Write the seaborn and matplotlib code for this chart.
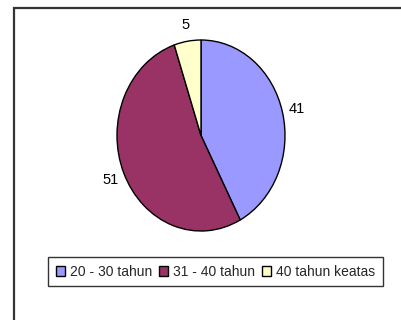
import matplotlib
matplotlib.use("Agg")
import matplotlib.pyplot as plt
import seaborn as sns
from matplotlib.patches import Patch, Rectangle

sns.set_theme(style="white")
plt.rcParams['font.family'] = ['Liberation Sans', 'DejaVu Sans']

categories = ["20 - 30 tahun", "31 - 40 tahun", "40 tahun keatas"]
values = [41, 51, 5]
colors = ["#9999FF", "#993366", "#FFFFCC"]

W, H = 401, 320
fig = plt.figure(figsize=(W / 100, H / 100), dpi=100)
fig.patch.set_facecolor("white")

# outer frame (extends beyond the right/bottom edges)
fig.patches.append(Rectangle((14 / W, -0.2), 1.2, 1 - 8 / H + 0.2,
                             transform=fig.transFigure, fill=False,
                             edgecolor="#333333", linewidth=1.6))

ax = fig.add_axes([117 / W, 1 - 231 / H, 168 / W, 191 / H])
wedges, texts = ax.pie(values, labels=[str(v) for v in values], colors=colors,
                       startangle=90, counterclock=False, labeldistance=1.17,
                       wedgeprops=dict(edgecolor="black", linewidth=1.0),
                       textprops=dict(fontsize=10.5, color="black"))
for t in texts:
    t.set_ha("center")
    t.set_va("center")
ax.set_aspect("auto")
ax.set_xlim(-1.0, 1.0)
ax.set_ylim(-1.0, 1.0)
ax.axis("off")

handles = [Patch(facecolor=c, edgecolor="black", linewidth=1.0) for c in colors]
leg = fig.legend(handles, categories, loc="center",
                 bbox_to_anchor=(215.5 / W, 1 - 271.5 / H), ncol=3,
                 fontsize=10, frameon=True, fancybox=False,
                 handlelength=0.7, handleheight=0.7, handletextpad=0.35,
                 columnspacing=0.45, borderpad=0.55, borderaxespad=0)
leg.get_frame().set_edgecolor("black")
leg.get_frame().set_linewidth(1.0)

fig.savefig("out.png", dpi=100)
